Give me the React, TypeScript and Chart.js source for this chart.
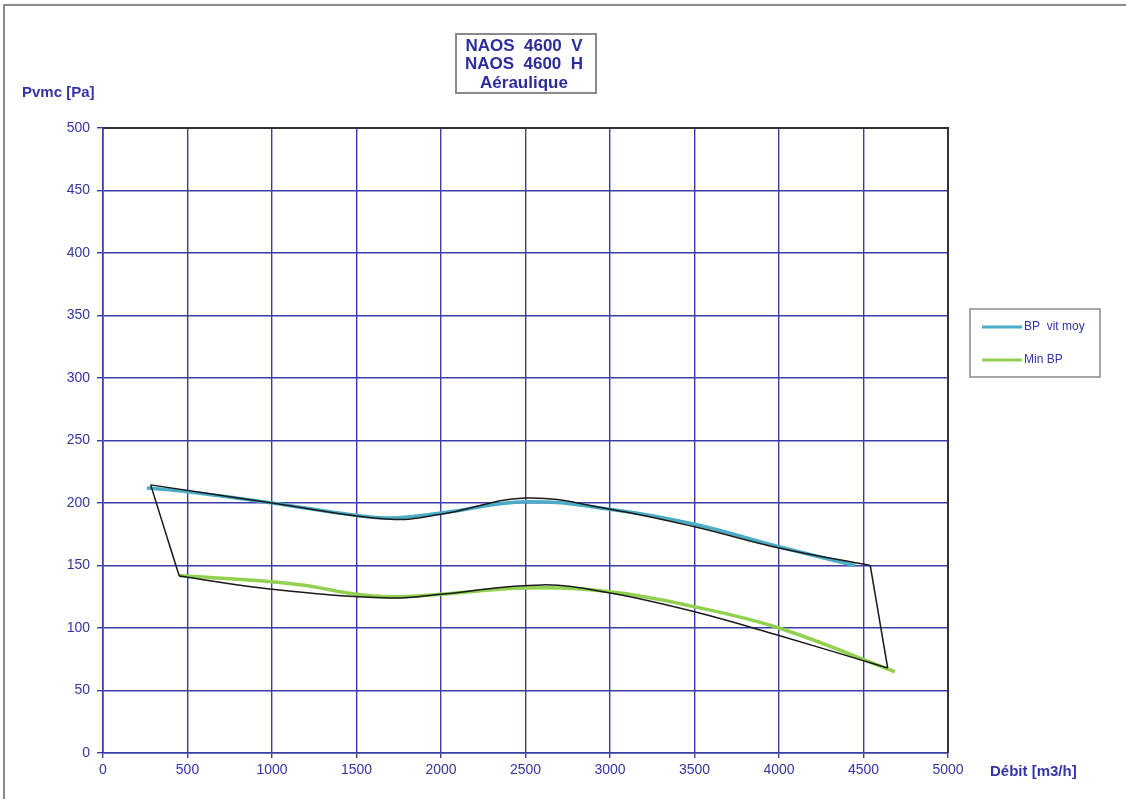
import React, { useEffect, useRef } from "react";
import { Chart, registerables } from "chart.js";

Chart.register(...registerables);

// ---- Data ----
const titleLines = ["NAOS  4600  V", "NAOS  4600  H", "Aéraulique"];
const yAxisTitle = "Pvmc [Pa]";
const xAxisTitle = "Débit [m3/h]";

const bpVitMoyLabel = "BP  vit moy";
const bpVitMoyX = [260, 500, 1000, 1500, 1700, 2000, 2500, 3000, 3500, 4000, 4450];
const bpVitMoyY = [212, 209, 200, 190, 188, 192, 201, 195, 183, 165, 150];

const minBpLabel = "Min BP";
const minBpX = [450, 1000, 1200, 1500, 1700, 2000, 2500, 3000, 3500, 4000, 4686];
const minBpY = [142, 137, 134, 127, 125, 127, 132, 129, 117, 100, 65];

// black outline of the operating zone
const outlineTopX = [282, 1000, 1700, 2000, 2500, 3000, 3500, 4000, 4540];
const outlineTopY = [214.5, 200, 187, 191, 204, 195, 181, 164, 150];
const outlineRightX = [4540, 4643];
const outlineRightY = [150, 68];
const outlineBottomX = [4643, 4000, 3500, 3000, 2600, 2000, 1700, 1000, 451];
const outlineBottomY = [68, 94, 113, 128, 134.5, 127, 124, 131, 141.6];
const outlineLeftX = [451, 282];
const outlineLeftY = [141.6, 214.5];

const xMin = 0, xMax = 5000, xStep = 500;
const yMin = 0, yMax = 500, yStep = 50;

const toPts = (xs: number[], ys: number[]) => xs.map((x, i) => ({ x, y: ys[i] }));

const TEXT = "#3434a6";
const GRID = "#3c3ca8";
const FONT = "'Liberation Sans', Arial, sans-serif";

const decorPlugin = {
  id: "decor",
  afterDraw(chart: any) {
    const ctx = chart.ctx;
    const a = chart.chartArea;
    ctx.save();
    // outer frame
    ctx.strokeStyle = "#8a8a8a";
    ctx.lineWidth = 2;
    ctx.beginPath();
    ctx.moveTo(4, 800);
    ctx.lineTo(4, 5);
    ctx.lineTo(1126, 5);
    ctx.stroke();
    // plot top/right border
    ctx.strokeStyle = "#333333";
    ctx.lineWidth = 2;
    ctx.beginPath();
    ctx.moveTo(a.left, a.top);
    ctx.lineTo(a.right, a.top);
    ctx.lineTo(a.right, a.bottom);
    ctx.stroke();
    // title box
    ctx.fillStyle = "#ffffff";
    ctx.fillRect(456, 34, 140, 59);
    ctx.strokeStyle = "#8a8a8a";
    ctx.lineWidth = 2;
    ctx.strokeRect(456, 34, 140, 59);
    ctx.fillStyle = "#2c2c9c";
    ctx.font = `bold 17px ${FONT}`;
    ctx.textAlign = "center";
    ctx.textBaseline = "middle";
    titleLines.forEach((t, i) => ctx.fillText(t, 524, 46 + i * 18.5));
    // axis titles
    ctx.font = `bold 15px ${FONT}`;
    ctx.fillStyle = TEXT;
    ctx.textAlign = "left";
    ctx.fillText(yAxisTitle, 22, 93);
    ctx.fillText(xAxisTitle, 990, 772);
    // legend
    ctx.fillStyle = "#ffffff";
    ctx.fillRect(970, 309, 130, 68);
    ctx.strokeStyle = "#8a8a8a";
    ctx.lineWidth = 1.5;
    ctx.strokeRect(970, 309, 130, 68);
    const items = [
      { label: bpVitMoyLabel, color: "#4bacc6", y: 327 },
      { label: minBpLabel, color: "#92d050", y: 360 },
    ];
    ctx.font = `12px ${FONT}`;
    items.forEach((it) => {
      ctx.strokeStyle = it.color;
      ctx.lineWidth = 3;
      ctx.beginPath();
      ctx.moveTo(982, it.y);
      ctx.lineTo(1022, it.y);
      ctx.stroke();
      ctx.fillStyle = TEXT;
      ctx.fillText(it.label, 1024, it.y);
    });
    ctx.restore();
  },
};

export default function App() {
  const ref = useRef<HTMLCanvasElement>(null);
  useEffect(() => {
    if (!ref.current) return;
    const blackDs = (data: any[]) => ({
      data,
      borderColor: "#1a1a1a",
      borderWidth: 1.5,
      showLine: true,
      pointRadius: 0,
      tension: 0.4,
      order: 0,
    });
    const chart = new Chart(ref.current, {
      type: "scatter",
      data: {
        datasets: [
          { ...blackDs(toPts(outlineTopX, outlineTopY)), label: "outline top" },
          { ...blackDs(toPts(outlineRightX, outlineRightY)), label: "outline right", tension: 0 },
          { ...blackDs(toPts(outlineBottomX, outlineBottomY)), label: "outline bottom" },
          { ...blackDs(toPts(outlineLeftX, outlineLeftY)), label: "outline left", tension: 0 },
          {
            label: bpVitMoyLabel,
            data: toPts(bpVitMoyX, bpVitMoyY),
            borderColor: "#4bacc6",
            borderWidth: 3.5,
            showLine: true,
            pointRadius: 0,
            tension: 0.4,
            order: 1,
          },
          {
            label: minBpLabel,
            data: toPts(minBpX, minBpY),
            borderColor: "#92d050",
            borderWidth: 3.5,
            showLine: true,
            pointRadius: 0,
            tension: 0.4,
            order: 1,
          },
        ],
      },
      options: {
        responsive: false,
        animation: false,
        layout: { padding: { top: 128, right: 178, left: 0, bottom: 0 } },
        plugins: { legend: { display: false }, tooltip: { enabled: false }, title: { display: false } },
        scales: {
          x: {
            type: "linear",
            min: xMin,
            max: xMax,
            ticks: {
              stepSize: xStep,
              color: TEXT,
              font: { family: FONT, size: 14 },
              padding: 4,
              maxRotation: 0,
              callback: (v: any) => String(v),
            },
            grid: { color: GRID, lineWidth: 1.4, tickLength: 5, drawTicks: true },
            border: { color: GRID, width: 1.6 },
            afterFit: (s: any) => { s.height = 46; },
          },
          y: {
            type: "linear",
            min: yMin,
            max: yMax,
            ticks: {
              stepSize: yStep,
              color: TEXT,
              font: { family: FONT, size: 14 },
              padding: 7,
              callback: (v: any) => String(v),
            },
            grid: { color: GRID, lineWidth: 1.4, tickLength: 6, drawTicks: true },
            border: { color: GRID, width: 1.6 },
            afterFit: (s: any) => { s.width = 103; },
          },
        },
      },
      plugins: [decorPlugin],
    } as any);
    return () => chart.destroy();
  }, []);
  return (
    <div style={{ position: "fixed", left: 0, top: 0, width: 1126, height: 799, background: "#fff" }}>
      <canvas ref={ref} width={1126} height={799} />
    </div>
  );
}
